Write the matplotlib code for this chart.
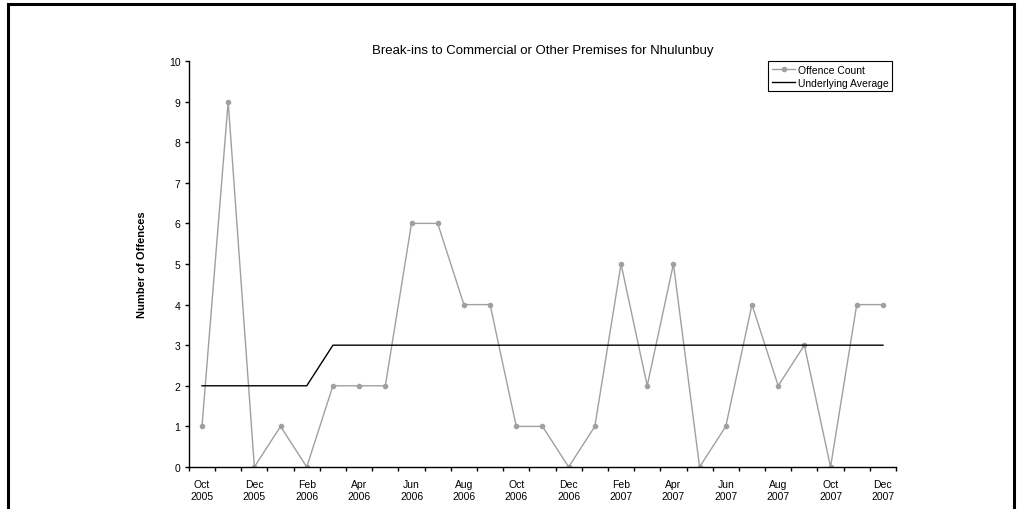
import matplotlib.pyplot as plt
import matplotlib.patches as mpatches
import numpy as np

plt.rcParams['font.family'] = ['Liberation Sans', 'DejaVu Sans']

# monthly data, Oct 2005 - Dec 2007
months = ['Oct\n2005', 'Nov\n2005', 'Dec\n2005', 'Jan\n2006', 'Feb\n2006', 'Mar\n2006',
          'Apr\n2006', 'May\n2006', 'Jun\n2006', 'Jul\n2006', 'Aug\n2006', 'Sep\n2006',
          'Oct\n2006', 'Nov\n2006', 'Dec\n2006', 'Jan\n2007', 'Feb\n2007', 'Mar\n2007',
          'Apr\n2007', 'May\n2007', 'Jun\n2007', 'Jul\n2007', 'Aug\n2007', 'Sep\n2007',
          'Oct\n2007', 'Nov\n2007', 'Dec\n2007']
offence_count = [1, 9, 0, 1, 0, 2, 2, 2, 6, 6, 4, 4, 1, 1, 0, 1, 5, 2, 5, 0, 1, 4, 2, 3, 0, 4, 4]
underlying_avg = [2, 2, 2, 2, 2, 3, 3, 3, 3, 3, 3, 3, 3, 3, 3, 3, 3, 3, 3, 3, 3, 3, 3, 3, 3, 3, 3]

fig = plt.figure(figsize=(10.21, 5.10), dpi=100)
ax = fig.add_axes([0.185, 0.0824, 0.6926, 0.796])

x = np.arange(len(months))
ax.plot(x, offence_count, color='#a0a0a0', lw=1, marker='o', ms=3,
        label='Offence Count')
ax.plot(x, underlying_avg, color='black', lw=1, label='Underlying Average')

ax.set_xlim(-0.5, len(months) - 0.5)
ax.set_ylim(0, 10)
ax.set_yticks(range(0, 11))

# tick marks between months, labels every second month
ax.set_xticks(np.arange(-0.5, len(months), 1))
ax.set_xticklabels([])
ax.set_xticks(x[::2], minor=True)
ax.set_xticklabels(months[::2], minor=True)
ax.tick_params(axis='both', which='major', length=3, width=1, labelsize=7.5, color='black')
ax.tick_params(axis='y', pad=3)
ax.tick_params(axis='x', which='minor', length=0, pad=9, labelsize=7.5)

for s in ['top', 'right']:
    ax.spines[s].set_visible(False)
for s in ['left', 'bottom']:
    ax.spines[s].set_linewidth(1)

ax.set_ylabel('Number of Offences', fontsize=8, fontweight='bold', labelpad=16)
ax.set_title('Break-ins to Commercial or Other Premises for Nhulunbuy', fontsize=9.5, pad=6)

leg = ax.legend(loc='upper right', bbox_to_anchor=(0.995, 1.0), fontsize=7.5,
                fancybox=False, edgecolor='black', framealpha=1, handlelength=2.2,
                borderpad=0.35, labelspacing=0.3, handletextpad=0.3, borderaxespad=0)
leg.get_frame().set_linewidth(0.8)

# outer chart border (bottom edge is cut off in the reference)
fig.patches.append(mpatches.Rectangle((8 / 1021, -0.1), (1014 - 8) / 1021, 1 - 5 / 510 + 0.1,
                                      transform=fig.transFigure, fill=False,
                                      edgecolor='black', lw=2.2))

fig.savefig('out.png', dpi=100)
